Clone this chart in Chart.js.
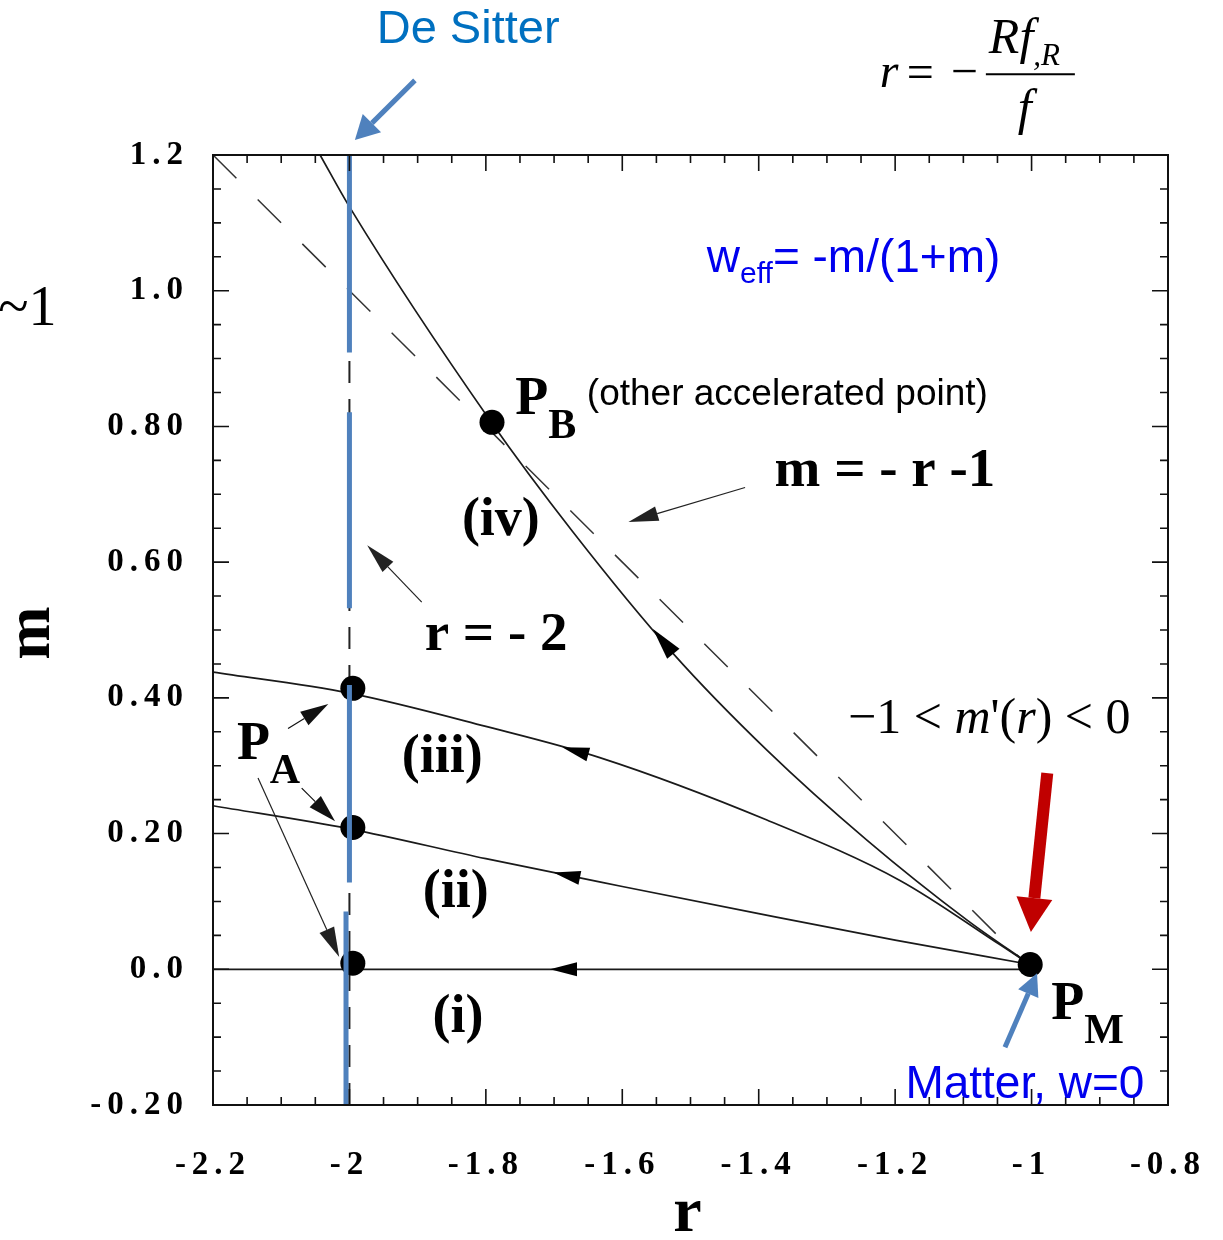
<!DOCTYPE html>
<html>
<head>
<meta charset="utf-8">
<script src="https://cdn.jsdelivr.net/npm/chart.js@4.4.0/dist/chart.umd.min.js"></script>
<style>
  html, body { margin: 0; padding: 0; background: #fff; overflow: hidden; }
  #wrap { width: 1223px; height: 1240px; }
  canvas { display: block; }
</style>
</head>
<body>
<div id="wrap"><canvas id="phaseChart"></canvas></div>
<script>
// tick labels
const xTickLabels = ['-2.2', '-2', '-1.8', '-1.6', '-1.4', '-1.2', '-1', '-0.8'];
const yTickLabels = ['-0.20', '0.0', '0.20', '0.40', '0.60', '0.80', '1.0', '1.2'];

// trajectories in the (r, m) plane
const curveI_r = [-2.2, -1.002];
const curveI_m = [0, 0];
const curveII_r = [-2.2, -2.0, -1.8, -1.6, -1.4, -1.2, -1.002];
const curveII_m = [0.241, 0.207, 0.163, 0.122, 0.082, 0.043, 0.007];
const curveIII_r = [-2.2, -2.0, -1.8, -1.633, -1.388, -1.193, -1.046, -1.002];
const curveIII_m = [0.438, 0.407, 0.358, 0.312, 0.220, 0.131, 0.036, 0.007];
const curveIV_r = [-2.043, -1.999, -1.794, -1.672, -1.526, -1.388, -1.241, -1.094, -1.002];
const curveIV_m = [1.2, 1.122, 0.809, 0.644, 0.466, 0.323, 0.190, 0.072, 0.007];

// m = -r - 1
const diagR = [-2.2, -1.0];
const diagM = [1.2, 0.0];
// r = -2
const vertR = [-2, -2];
const vertM = [-0.2, 1.2];
// de Sitter line pieces (blue)
const sitterR = [-2, -2, -2, -2.005];
const sitterTop = [1.2, 0.821, 0.419, 0.085];
const sitterBottom = [0.909, 0.532, 0.128, -0.2];

// fixed points P_B, P_A (x3), P_M
const pointR = [-1.791, -1.995, -1.995, -1.995, -1.002];
const pointM = [0.806, 0.414, 0.209, 0.009, 0.007];

// where the flow arrowheads sit on curves (i)..(iv)
const flowArrowR = [-1.706, -1.701, -1.688, -1.555];

const serif = "'Liberation Serif', 'Times New Roman', serif";
const sans = "'Liberation Sans', Arial, sans-serif";

const pts = (rs, ms) => rs.map((r, i) => ({ x: r, y: ms[i] }));

function interp(rs, ms, r) {
  for (let i = 0; i < rs.length - 1; i++) {
    if (r >= rs[i] && r <= rs[i + 1]) {
      const t = (r - rs[i]) / (rs[i + 1] - rs[i]);
      return ms[i] + t * (ms[i + 1] - ms[i]);
    }
  }
  return ms[ms.length - 1];
}

function arrow(ctx, x1, y1, x2, y2, color, width, headLen, headWid) {
  const a = Math.atan2(y2 - y1, x2 - x1);
  const bx = x2 - headLen * Math.cos(a), by = y2 - headLen * Math.sin(a);
  ctx.save();
  ctx.strokeStyle = color;
  ctx.fillStyle = color;
  ctx.lineWidth = width;
  ctx.beginPath();
  ctx.moveTo(x1, y1);
  ctx.lineTo(bx, by);
  ctx.stroke();
  ctx.beginPath();
  ctx.moveTo(x2, y2);
  ctx.lineTo(bx + headWid / 2 * Math.sin(a), by - headWid / 2 * Math.cos(a));
  ctx.lineTo(bx - headWid / 2 * Math.sin(a), by + headWid / 2 * Math.cos(a));
  ctx.closePath();
  ctx.fill();
  ctx.restore();
}

// text made of several runs with different fonts: [text, font, dy]
function runs(ctx, x, y, parts, color) {
  ctx.save();
  ctx.fillStyle = color || '#000';
  ctx.textAlign = 'left';
  ctx.textBaseline = 'alphabetic';
  for (const [t, f, dy] of parts) {
    ctx.font = f;
    ctx.fillText(t, x, y + (dy || 0));
    x += ctx.measureText(t).width;
  }
  ctx.restore();
}

function drawNotes(chart) {
  const { ctx, scales: { x, y } } = chart;
  const P = (r, m) => [x.getPixelForValue(r), y.getPixelForValue(m)];
  const txt = (s, r, m, font, color, align) => {
    const [px, py] = P(r, m);
    ctx.save();
    ctx.font = font;
    ctx.fillStyle = color;
    ctx.textAlign = align || 'center';
    ctx.textBaseline = 'middle';
    ctx.fillText(s, px, py);
    ctx.restore();
  };
  const bold = (s) => `bold ${s}px ${serif}`;
  const steel = '#4f81bd', blue = '#0000ee', red = '#c00000';

  // flow direction arrowheads
  const curves = [[curveI_r, curveI_m], [curveII_r, curveII_m], [curveIII_r, curveIII_m], [curveIV_r, curveIV_m]];
  flowArrowR.forEach((r, i) => {
    const [rs, ms] = curves[i];
    const [tx, ty] = P(r, interp(rs, ms, r));
    const [qx, qy] = P(r + 0.02, interp(rs, ms, r + 0.02));
    const d = Math.hypot(qx - tx, qy - ty);
    const len = i === 3 ? 32 : 27;
    arrow(ctx, tx + (qx - tx) / d * len, ty + (qy - ty) / d * len, tx, ty, '#000', 1, len, i === 3 ? 16 : 14);
  });

  // De Sitter
  txt('De Sitter', -1.826, 1.384, `47px ${sans}`, '#0070c0');
  arrow(ctx, ...P(-1.904, 1.310), ...P(-1.992, 1.222), steel, 5, 24, 26);

  // r = - R f_{,R} / f
  const [fx, fy] = P(-1.067, 1.319);
  runs(ctx, fx - 106, fy + 13, [['r', `italic 48px ${serif}`]]);
  runs(ctx, fx - 79, fy + 14, [['=', `48px ${serif}`]]);
  runs(ctx, fx - 35, fy + 13, [['\u2212', `48px ${serif}`]]);
  ctx.fillStyle = '#000';
  ctx.fillRect(fx, fy - 1, 89, 2);
  runs(ctx, fx + 3, fy - 21, [['Rf', `italic 50px ${serif}`], [',R', `italic 31px ${serif}`, 12]]);
  runs(ctx, fx + 32, fy + 50, [['f', `italic 50px ${serif}`]]);

  // w_eff
  runs(ctx, ...P(-1.476, 1.027), [['w', `46px ${sans}`], ['eff', `30px ${sans}`, 11], ['= -m/(1+m)', `46px ${sans}`]], blue);

  // point labels
  runs(ctx, ...P(-1.757, 0.819), [['P', bold(54)], ['B', bold(42), 24]]);
  runs(ctx, ...P(-2.165, 0.3095), [['P', bold(54)], ['A', bold(42), 24]]);
  runs(ctx, ...P(-0.971, -0.0737), [['P', bold(54)], ['M', bold(42), 24]]);
  txt('(other accelerated point)', -1.652, 0.846, `37px ${sans}`, '#000', 'left');

  txt('m = - r -1', -1.215, 0.7325, bold(55), '#000');
  txt('(iv)', -1.778, 0.660, bold(54), '#000');
  txt('r = - 2', -1.785, 0.491, bold(55), '#000');
  txt('(iii)', -1.864, 0.311, bold(54), '#000');
  txt('(ii)', -1.844, 0.112, bold(54), '#000');
  txt('(i)', -1.841, -0.0722, bold(54), '#000');

  runs(ctx, ...P(-1.269, 0.348), [
    ['\u22121 < ', `50px ${serif}`], ['m', `italic 50px ${serif}`], ["'(", `50px ${serif}`],
    ['r', `italic 50px ${serif}`], [') < 0', `50px ${serif}`]
  ]);

  txt('Matter, w=0', -1.185, -0.171, `46px ${sans}`, blue, 'left');
  txt('~1', -2.515, 0.971, `56px ${serif}`, '#000', 'left');

  // pointer arrows
  arrow(ctx, ...P(-1.420, 0.710), ...P(-1.591, 0.659), '#222', 1.2, 30, 15);
  arrow(ctx, ...P(-1.894, 0.541), ...P(-1.974, 0.625), '#222', 1.2, 30, 15);
  arrow(ctx, ...P(-2.090, 0.355), ...P(-2.031, 0.391), '#111', 1.2, 28, 16);
  arrow(ctx, ...P(-2.070, 0.267), ...P(-2.021, 0.218), '#111', 1.2, 28, 16);
  arrow(ctx, ...P(-2.134, 0.282), ...P(-2.015, 0.018), '#222', 1.2, 30, 16);
  arrow(ctx, ...P(-0.977, 0.289), ...P(-1.001, 0.055), red, 12, 34, 36);
  arrow(ctx, ...P(-1.039, -0.115), ...P(-0.992, -0.006), steel, 5, 22, 22);
}

// box with inward major/minor ticks on all four sides, then the notes
const framePlugin = {
  id: 'frame',
  beforeDraw(chart) { chart.ctx.letterSpacing = '6px'; },
  beforeDatasetsDraw(chart) { chart.ctx.letterSpacing = '0px'; },
  afterDraw(chart) {
    const { ctx, chartArea: a, scales: { x, y } } = chart;
    ctx.save();
    ctx.strokeStyle = '#111';
    ctx.lineWidth = 2;
    ctx.strokeRect(a.left, a.top, a.right - a.left, a.bottom - a.top);
    ctx.lineWidth = 1.6;
    ctx.beginPath();
    for (let k = 0; k <= 28; k++) {
      const len = k % 4 === 0 ? 16 : 8;
      const px = x.getPixelForValue(x.min + k * 0.05);
      ctx.moveTo(px, a.bottom); ctx.lineTo(px, a.bottom - len);
      ctx.moveTo(px, a.top); ctx.lineTo(px, a.top + len);
      const py = y.getPixelForValue(y.min + k * 0.05);
      ctx.moveTo(a.left, py); ctx.lineTo(a.left + len, py);
      ctx.moveTo(a.right, py); ctx.lineTo(a.right - len, py);
    }
    ctx.stroke();
    ctx.restore();
    drawNotes(chart);
  }
};

const curveStyle = { showLine: true, borderColor: '#1a1a1a', borderWidth: 1.7, pointRadius: 0, cubicInterpolationMode: 'monotone' };

const datasets = [];
sitterR.forEach((r, i) => datasets.push({
  data: [{ x: r, y: sitterTop[i] }, { x: r, y: sitterBottom[i] }],
  showLine: true, borderColor: '#4f81bd', borderWidth: 5, pointRadius: 0
}));
datasets.push({ data: pts(pointR, pointM), showLine: false, pointRadius: 12.5, pointBackgroundColor: '#000', pointBorderWidth: 0 });
datasets.push({ ...curveStyle, data: pts(curveI_r, curveI_m) });
datasets.push({ ...curveStyle, data: pts(curveII_r, curveII_m) });
datasets.push({ ...curveStyle, data: pts(curveIII_r, curveIII_m) });
datasets.push({ ...curveStyle, data: pts(curveIV_r, curveIV_m) });
datasets.push({ data: pts(diagR, diagM), showLine: true, borderColor: '#333', borderWidth: 1.5, borderDash: [33, 30], pointRadius: 0 });
datasets.push({ data: pts(vertR, vertM), showLine: true, borderColor: '#222', borderWidth: 2, borderDash: [22, 16], pointRadius: 0 });

new Chart(document.getElementById('phaseChart').getContext('2d'), {
  type: 'scatter',
  data: { datasets },
  options: {
    responsive: true,
    maintainAspectRatio: false,
    animation: false,
    events: [],
    layout: { padding: { top: 155, right: 55, left: 0, bottom: 0 } },
    plugins: { legend: { display: false }, tooltip: { enabled: false } },
    scales: {
      x: {
        type: 'linear', min: -2.2, max: -0.8,
        afterFit(s) { s.height = 135; s.paddingLeft = 0; s.paddingRight = 0; },
        grid: { display: false, drawTicks: false },
        border: { display: false },
        ticks: {
          stepSize: 0.2, autoSkip: false, maxRotation: 0, padding: 41, color: '#000',
          font: { family: serif, size: 33, weight: 'bold' },
          callback: (v, i) => xTickLabels[i]
        },
        title: { display: true, text: 'r', color: '#000', padding: 0,
          font: { family: serif, size: 64, weight: 'bold', lineHeight: 0.8 } }
      },
      y: {
        type: 'linear', min: -0.2, max: 1.2,
        afterFit(s) { s.width = 213; s.paddingTop = 0; s.paddingBottom = 0; },
        grid: { display: false, drawTicks: false },
        border: { display: false },
        ticks: {
          stepSize: 0.2, autoSkip: false, padding: 24, color: '#000',
          font: { family: serif, size: 33, weight: 'bold' },
          callback: (v, i) => yTickLabels[i]
        },
        title: { display: true, text: 'm', color: '#000', padding: { top: 0, bottom: 0 },
          font: { family: serif, size: 64, weight: 'bold', lineHeight: 1 } }
      }
    }
  },
  plugins: [framePlugin]
});
</script>
</body>
</html>
